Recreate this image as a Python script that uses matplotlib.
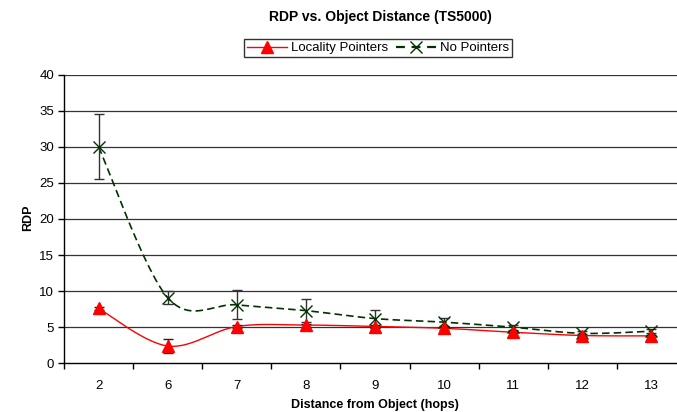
import numpy as np
import matplotlib
matplotlib.use("Agg")
import matplotlib.pyplot as plt
from matplotlib.lines import Line2D

categories = ["2", "6", "7", "8", "9", "10", "11", "12", "13"]
locality = [7.6, 2.4, 5.1, 5.3, 5.1, 4.85, 4.3, 3.85, 3.8]
locality_err = [0.15, 1.0, 0.2, 0.2, 0.2, 0.2, 0.15, 0.15, 0.15]
no_pointers = [30.0, 9.1, 8.1, 7.3, 6.2, 5.7, 5.0, 4.15, 4.45]
no_pointers_err = [4.5, 0.9, 2.0, 1.6, 1.25, 0.55, 0.35, 0.3, 0.25]
y_ticks = [0, 5, 10, 15, 20, 25, 30, 35, 40]

plt.rcParams['font.family'] = ['Liberation Sans', 'DejaVu Sans']

fig = plt.figure(figsize=(6.77, 4.12), dpi=100)
ax = fig.add_axes([64/677, 48.7/412, 622/677, 288.6/412])

xpos = np.arange(len(categories))
XS, YS = 70.0, 7.215  # px per unit, for smoothing in display-like space


def smooth(xs, ys, n=30):
    px = np.asarray(xs, float) * XS
    py = np.asarray(ys, float) * YS
    P = np.column_stack([px, py])
    out = []
    for i in range(len(P) - 1):
        p0 = P[i - 1] if i > 0 else P[i]
        p1 = P[i]
        p2 = P[i + 1]
        p3 = P[i + 2] if i + 2 < len(P) else P[i + 1]
        c1 = p1 + (p2 - p0) / 6.0
        c2 = p2 - (p3 - p1) / 6.0
        t = np.linspace(0, 1, n)[:, None]
        seg = ((1 - t) ** 3) * p1 + 3 * ((1 - t) ** 2) * t * c1 + 3 * (1 - t) * t ** 2 * c2 + t ** 3 * p2
        out.append(seg if i == 0 else seg[1:])
    S = np.vstack(out)
    return S[:, 0] / XS, S[:, 1] / YS

for yv in y_ticks[1:]:
    ax.axhline(yv, color='#333333', lw=0.9, zorder=1)

# No Pointers
sx, sy = smooth(xpos, no_pointers)
ax.plot(sx, sy, color='#003300', lw=1.2, ls=(0, (4.5, 2.5)), zorder=3)
ax.errorbar(xpos, no_pointers, yerr=no_pointers_err, fmt='none', ecolor='#333333',
            elinewidth=1.0, capsize=3.5, capthick=1.0, zorder=4)
ax.plot(xpos, no_pointers, ls='none', marker='x', ms=9, mew=1.0, color='#003300', zorder=5)

# Locality Pointers
sx, sy = smooth(xpos, locality)
ax.plot(sx, sy, color='#ff0000', lw=1.0, zorder=3)
ax.errorbar(xpos, locality, yerr=locality_err, fmt='none', ecolor='#222222',
            elinewidth=1.0, capsize=3.5, capthick=1.0, zorder=4)
ax.plot(xpos, locality, ls='none', marker='^', ms=8, color='#ff0000', mec='#ff0000', zorder=6)

ax.set_xlim(-0.5, len(categories) - 0.5)
ax.set_ylim(0, 40)
ax.set_yticks(y_ticks)
ax.set_yticklabels([str(v) for v in y_ticks], fontsize=9.5)
ax.set_xticks(xpos)
ax.set_xticklabels(categories, fontsize=9.5)
ax.set_xticks(np.arange(len(categories) + 1) - 0.5, minor=True)
ax.tick_params(axis='x', which='major', length=0, pad=12)
ax.tick_params(axis='x', which='minor', length=4, direction='out', width=1)
ax.tick_params(axis='y', length=4, direction='out', width=1, pad=3)
for s in ['top', 'right']:
    ax.spines[s].set_visible(False)
for s in ['left', 'bottom']:
    ax.spines[s].set_linewidth(1.0)
    ax.spines[s].set_color('black')

fig.text(28/677, 1 - 218/412, 'RDP', fontsize=9, fontweight='bold', rotation=90,
         ha='center', va='center')
fig.text(375/677, 1 - 405/412, 'Distance from Object (hops)', fontsize=9, fontweight='bold',
         ha='center', va='center')
fig.text(380/677, 1 - 17/412, 'RDP vs. Object Distance (TS5000)', fontsize=10,
         fontweight='bold', ha='center', va='center')

handles = [Line2D([], [], color='#ff0000', lw=1.0, marker='^', ms=8),
           Line2D([], [], color='#003300', lw=1.6, ls=(0, (4.0, 3.0)), marker='x', ms=8, mew=1.0)]
leg = fig.legend(handles, ['Locality Pointers', 'No Pointers'], loc='center',
                 bbox_to_anchor=(378/677, 1 - 48/412), ncol=2, fontsize=9.5, frameon=True,
                 fancybox=False, edgecolor='black', handlelength=3.0, handletextpad=0.3,
                 columnspacing=0.6, borderpad=0.25, borderaxespad=0)
leg.get_frame().set_linewidth(1.0)

fig.savefig('out.png', dpi=100)
